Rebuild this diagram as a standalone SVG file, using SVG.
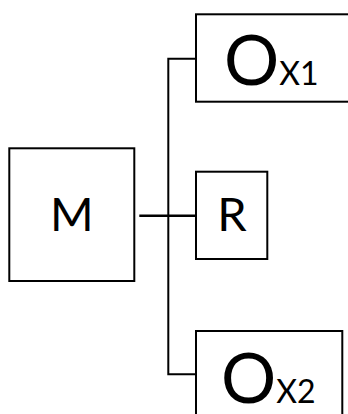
<svg xmlns="http://www.w3.org/2000/svg" width="348" height="414" viewBox="0 0 348 414">
<style>
.box{fill:#fff;stroke:#000;stroke-width:2}
.ln{fill:none;stroke:#000;stroke-width:2}
text{font-family:Lato,"Open Sans",sans-serif;fill:#000}
</style>
<rect width="348" height="414" fill="#fff"/>
<g id="connectors">
<path class="ln" d="M196,58.7 H168.3 V374.3 H196"/>
<path class="ln" d="M139.3,215.7 H196" style="stroke-width:2.6"/>
</g>
<g id="node-M">
<rect class="box" x="9.3" y="148.3" width="125" height="132.7"/>
<text x="71.7" y="231" font-size="47" text-anchor="middle">M</text>
</g>
<g id="node-R">
<rect class="box" x="196" y="171.7" width="71.3" height="87.3"/>
<text x="232" y="231" font-size="47" text-anchor="middle">R</text>
</g>
<g id="node-Ox1">
<rect class="box" x="196" y="14.3" width="160" height="87.4"/>
<text x="224" y="85" font-size="69">O<tspan font-size="32">X1</tspan></text>
</g>
<g id="node-Ox2">
<rect class="box" x="196" y="331" width="146.3" height="100"/>
<text x="221" y="403" font-size="69">O<tspan font-size="32">X2</tspan></text>
</g>
</svg>
